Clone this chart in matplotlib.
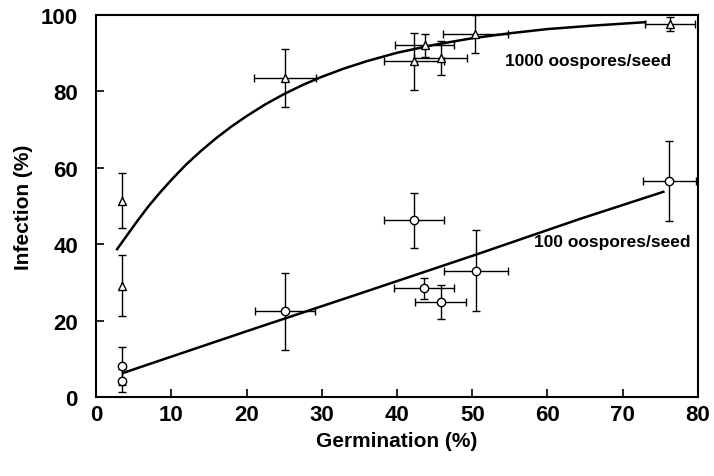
import matplotlib
matplotlib.use("Agg")
import matplotlib.pyplot as plt

plt.rcParams["font.family"] = ["Liberation Sans", "DejaVu Sans"]
plt.rcParams["font.weight"] = "bold"

# --- 1000 oospores/seed (triangles)
germ_1000 = [3.5, 3.5, 25.1, 42.3, 43.7, 45.8, 50.4, 76.3]
inf_1000 = [51.4, 29.1, 83.5, 87.9, 92.0, 88.7, 95.0, 97.6]
xerr_1000 = [0.0, 0.0, 4.1, 4.0, 3.9, 3.5, 4.3, 3.3]
yerr_1000 = [7.2, 8.0, 7.5, 7.5, 3.0, 4.5, 5.0, 1.8]
curve_1000_x = [2.8, 4, 5.5, 7, 8.5, 10, 12, 14, 16, 18, 20, 22.5, 25, 27.5,
                30, 33, 36, 40, 45, 50, 55, 60, 66, 73]
curve_1000_y = [38.7, 42.0, 46.1, 50.0, 53.5, 56.8, 60.9, 64.5, 67.8, 70.8, 73.5, 76.6, 79.3, 81.7,
                83.8, 86.0, 87.9, 90.1, 92.2, 93.9, 95.2, 96.3, 97.2, 98.1]

# --- 100 oospores/seed (circles)
germ_100 = [3.5, 3.5, 25.1, 42.3, 43.6, 45.8, 50.5, 76.2]
inf_100 = [8.2, 4.3, 22.4, 46.2, 28.4, 24.8, 33.1, 56.6]
xerr_100 = [0.0, 0.0, 4.0, 4.0, 4.0, 3.4, 4.3, 3.5]
yerr_100 = [5.0, 3.0, 10.0, 7.2, 2.8, 4.5, 10.5, 10.5]
curve_100_x = [3.6, 20.9, 35.1, 50.4, 64.3, 75.4]
curve_100_y = [6.3, 17.8, 27.1, 37.2, 46.6, 53.7]

fig = plt.figure(figsize=(7.14, 4.77), dpi=100)
ax = fig.add_axes([0.1345, 0.1656, 0.843, 0.801])

ax.errorbar(germ_1000, inf_1000, xerr=xerr_1000, yerr=yerr_1000, fmt="^",
            mfc="white", mec="black", ms=6, mew=1.0, ecolor="black",
            elinewidth=1.0, capsize=3, capthick=1.2, zorder=3)
ax.errorbar(germ_100, inf_100, xerr=xerr_100, yerr=yerr_100, fmt="o",
            mfc="white", mec="black", ms=6, mew=1.0, ecolor="black",
            elinewidth=1.0, capsize=3, capthick=1.2, zorder=3)
ax.plot(curve_1000_x, curve_1000_y, color="black", lw=1.8, zorder=2,
        solid_joinstyle="round")
ax.plot(curve_100_x, curve_100_y, color="black", lw=1.8, zorder=2)

ax.text(54.3, 88.0, "1000 oospores/seed", fontsize=12.5, fontweight="bold", va="center")
ax.text(58.2, 40.6, "100 oospores/seed", fontsize=12.5, fontweight="bold", va="center")

ax.set_xlim(0, 80)
ax.set_ylim(0, 100)
ax.set_xticks(range(0, 81, 10))
ax.set_yticks(range(0, 101, 20))
ax.tick_params(direction="in", length=6, width=1.2, labelsize=16)
ax.tick_params(axis="x", pad=5)
ax.tick_params(axis="y", pad=13)
for lbl in ax.get_xticklabels() + ax.get_yticklabels():
    lbl.set_fontweight("bold")
for sp in ax.spines.values():
    sp.set_linewidth(1.5)

ax.set_xlabel("Germination (%)", fontsize=15, fontweight="bold", labelpad=4)
ax.set_ylabel("Infection (%)", fontsize=15, fontweight="bold", labelpad=6)

fig.savefig("out.png", dpi=100)
